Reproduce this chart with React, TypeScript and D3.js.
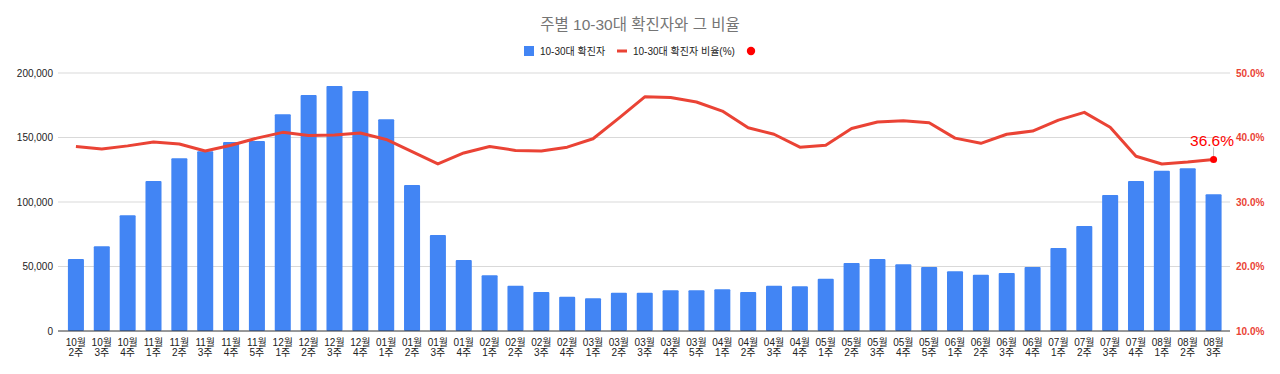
import React from 'react'
import * as d3 from 'd3'

const weeks = [
  '10월|2주', '10월|3주', '10월|4주',
  '11월|1주', '11월|2주', '11월|3주', '11월|4주', '11월|5주',
  '12월|1주', '12월|2주', '12월|3주', '12월|4주',
  '01월|1주', '01월|2주', '01월|3주', '01월|4주',
  '02월|1주', '02월|2주', '02월|3주', '02월|4주',
  '03월|1주', '03월|2주', '03월|3주', '03월|4주', '03월|5주',
  '04월|1주', '04월|2주', '04월|3주', '04월|4주',
  '05월|1주', '05월|2주', '05월|3주', '05월|4주', '05월|5주',
  '06월|1주', '06월|2주', '06월|3주', '06월|4주',
  '07월|1주', '07월|2주', '07월|3주', '07월|4주',
  '08월|1주', '08월|2주', '08월|3주',
]

const cases = [
  55800, 65700, 89700,
  116300, 133900, 139300, 146500, 147300,
  168000, 183000, 190000, 186000,
  164100, 113200, 74400, 55000,
  43200, 35100, 30200, 26600,
  25300, 29700, 29700, 31500, 31500,
  32300, 30200, 35100, 34600,
  40500, 52700, 55800, 51700, 49600,
  46300, 43600, 45000, 49600,
  64300, 81400, 105400, 116300,
  124300, 126100, 106000,
]

const ratio = [
  38.6, 38.2, 38.7,
  39.3, 39.0, 37.9, 38.8, 39.9,
  40.8, 40.3, 40.4, 40.7,
  39.7, 37.8, 35.9, 37.6,
  38.6, 38.0, 37.9, 38.5,
  39.8, 43.0, 46.3, 46.2, 45.5,
  44.1, 41.5, 40.5, 38.5,
  38.8, 41.4, 42.4, 42.6, 42.3,
  39.9, 39.1, 40.5, 41.0,
  42.7, 43.9, 41.6, 37.1,
  35.9, 36.2, 36.6,
]

const leftTicks = [0, 50000, 100000, 150000, 200000]
const rightTicks = [10, 20, 30, 40, 50]

const W = 1280
const H = 374
const font = '"Liberation Sans", Arial, "Noto Sans CJK KR", sans-serif'
const blue = '#4285f4'
const red = '#ea4335'

const App = () => {
  const x = d3.scaleBand<number>()
    .domain(d3.range(weeks.length))
    .range([63, 1226.5])
    .paddingInner(0.38)
    .paddingOuter(0.19)
  const y = d3.scaleLinear().domain([0, 200000]).range([331, 73])
  const y2 = d3.scaleLinear().domain([10, 50]).range([331, 73])
  const cx = (i: number) => (x(i) as number) + x.bandwidth() / 2

  const line = d3.line<number>()
    .x((d, i) => cx(i))
    .y(d => y2(d))

  const fmt = d3.format(',')
  const last = ratio.length - 1

  return (
    <svg width={W} height={H} style={{ position: 'absolute', left: 0, top: 0, background: '#fff' }} fontFamily={font}>
      <text x={640} y={30} textAnchor="middle" fontSize={15.5} fill="#757575">주별 10-30대 확진자와 그 비율</text>

      {/* legend */}
      <g fontSize={10} fill="#222">
        <rect x={524} y={46} width={10} height={10} fill={blue} />
        <text x={540} y={55}>10-30대 확진자</text>
        <rect x={617} y={49.5} width={10} height={3} fill={red} />
        <text x={633} y={55}>10-30대 확진자 비율(%)</text>
        <circle cx={751} cy={51} r={4.2} fill="#ff0000" />
      </g>

      {/* grid */}
      {leftTicks.slice(1).map(t => (
        <line key={t} x1={58} x2={1230} y1={y(t)} y2={y(t)} stroke="#d9d9d9" strokeWidth={1} />
      ))}

      {/* left axis */}
      <g fontSize={10} fill="#222" textAnchor="end">
        {leftTicks.map(t => (
          <text key={t} x={53} y={y(t) + 3.5}>{fmt(t)}</text>
        ))}
      </g>

      {/* right axis */}
      <g fontSize={10} fill={red} fontWeight="bold">
        {rightTicks.map(t => (
          <text key={t} x={1236} y={y2(t) + 3.5}>{t.toFixed(1)}%</text>
        ))}
      </g>

      {/* bars */}
      {cases.map((v, i) => (
        <rect key={i} x={x(i)} y={y(v)} width={x.bandwidth()} height={y(0) - y(v)} fill={blue} rx={1} />
      ))}

      <line x1={58} x2={1230} y1={y(0)} y2={y(0)} stroke="#333" strokeWidth={1} />

      {/* x labels */}
      <g fontSize={10} fill="#222" textAnchor="middle">
        {weeks.map((w, i) => {
          const [m, wk] = w.split('|')
          return (
            <text key={i} x={cx(i)} y={346}>
              <tspan x={cx(i)}>{m}</tspan>
              <tspan x={cx(i)} dy={9.5}>{wk}</tspan>
            </text>
          )
        })}
      </g>

      {/* ratio line */}
      <path d={line(ratio) || ''} fill="none" stroke={red} strokeWidth={3} strokeLinejoin="round" />
      <line x1={cx(last)} x2={cx(last)} y1={y2(ratio[last])} y2={y2(ratio[last]) - 12} stroke="#bbb" strokeWidth={1} />
      <circle cx={cx(last)} cy={y2(ratio[last])} r={3.5} fill="#ff0000" />
      <text x={1234} y={y2(ratio[last]) - 13} textAnchor="end" fontSize={15.5} fill="#ff0000">{ratio[last].toFixed(1)}%</text>
    </svg>
  )
}

export default App
